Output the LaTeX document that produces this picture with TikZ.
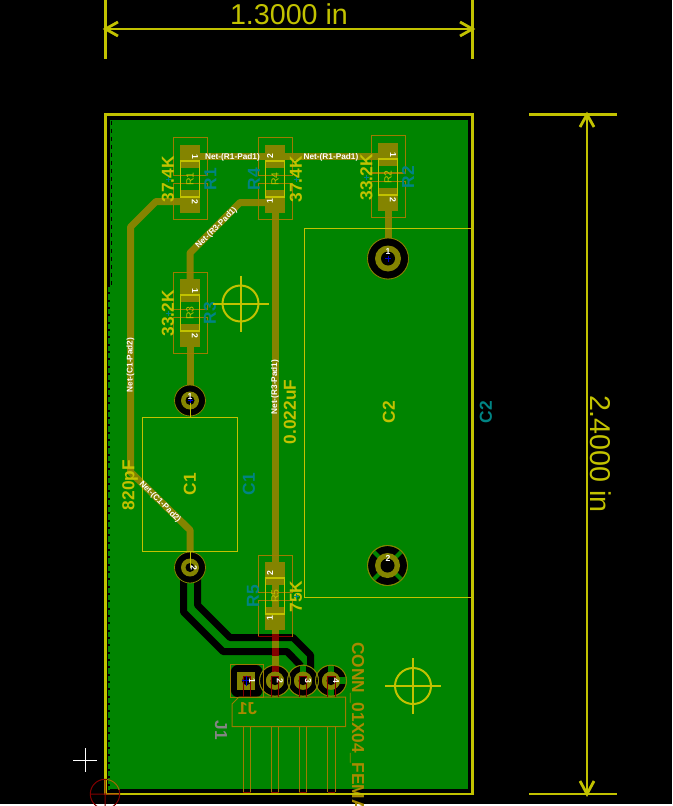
\documentclass[tikz,border=0pt]{standalone}
\usepackage{fontspec}
\setmainfont{Liberation Sans}
\usetikzlibrary{calc}
\definecolor{PcbGreen}{HTML}{008400}
\definecolor{PcbOlive}{HTML}{848400}
\definecolor{PcbYellow}{HTML}{C2C200}
\definecolor{PcbTeal}{HTML}{008484}
\definecolor{PcbRed}{HTML}{840000}
\definecolor{PcbBrown}{HTML}{9C7C00}
\definecolor{PcbGold}{HTML}{A88A00}
\definecolor{PcbGrey}{HTML}{848484}
\tikzset{
  fronttrack/.style={draw=PcbOlive,line width=5.25pt,line join=round},
  backtrack/.style={draw=black,line width=5.25pt,line join=round},
  thinyellow/.style={draw=PcbYellow,line width=.75pt},
  courtyard/.style={draw=PcbBrown,line width=.75pt},
  dimline/.style={draw=PcbYellow,line width=2.1pt},
  bigtext/.style={text=PcbYellow,font=\fontsize{21.5}{22}\selectfont,inner sep=0pt},
  valtext/.style={text=PcbYellow,font=\fontsize{13}{14}\selectfont\bfseries,inner sep=0pt},
  reftext/.style={text=PcbTeal,font=\fontsize{13}{14}\selectfont\bfseries,inner sep=0pt},
  bodytext/.style={text=PcbYellow,font=\fontsize{7.8}{8}\selectfont,inner sep=0pt},
  nettext/.style={text=white,font=\fontsize{6.2}{7}\selectfont\bfseries,inner sep=0pt},
  padtext/.style={text=white,font=\fontsize{6.5}{7}\selectfont\bfseries,inner sep=0pt}
}
\newcommand{\thpad}[4]{
  \fill[black] (#1) circle (#2);
  \draw[PcbOlive,line width=.6pt] (#1) circle (#2);
  \fill[PcbOlive] (#1) circle (#3);
  \fill[black] (#1) circle (#4);
}
\newcommand{\target}[1]{
  \draw[PcbYellow,line width=1.5pt] (#1) circle (18);
  \draw[PcbYellow,line width=1.5pt] ($(#1)+(-28,0)$) -- ($(#1)+(28,0)$);
  \draw[PcbYellow,line width=1.5pt] ($(#1)+(0,-28)$) -- ($(#1)+(0,28)$);
}
\begin{document}
\begin{tikzpicture}[x=.75pt,y=-.75pt]
  \useasboundingbox (0,0) rectangle (672,806);
  \fill[white] (0,0) rectangle (672,806);
  \fill[black] (0,0) rectangle (672,804);
  \fill[PcbGreen] (110,120) rectangle (468,789);
  \draw[PcbGreen,line width=1.5pt,dash pattern=on 4pt off 1.5pt] (109,287) -- (109,790);
  \draw[black,line width=.75pt,dash pattern=on 3pt off 3pt] (111,121) -- (111,287);

  % pad centres
  \coordinate (C1a) at (190,400.5);
  \coordinate (C1b) at (190,567.5);
  \coordinate (C2a) at (388,258.5);
  \coordinate (C2b) at (387.5,565.5);
  \coordinate (J1a) at (246.5,680.7);
  \coordinate (J1b) at (275,680.7);
  \coordinate (J1c) at (303,680.7);
  \coordinate (J1d) at (331,680.7);

  % back copper
  \draw[backtrack] (183.5,570) -- (183.5,612) -- (223,651.5) -- (287,651.5) -- (301,666);
  \draw[backtrack] (197.5,570) -- (197.5,605) -- (230,637.5) -- (293,637.5) -- (310.5,655) -- (310.5,672);

  % clearances
  \fill[black,rounded corners=5pt] (231,665) rectangle (262.5,697);
  \foreach \p in {C1a,C1b,J1b,J1c,J1d}
    \fill[black] (\p) circle (15.5);
  \foreach \a in {90,270}
    \draw[PcbGreen,line width=5pt] (J1d) -- ++(\a:-15.5);
  \draw[PcbGreen,line width=5pt] (J1d) -- ++(15.5,0);
  \draw[PcbGreen,line width=5pt] (J1c) -- ++(0,-15.5);
  \fill[black] (C2a) circle (20.5);
  \fill[black] (C2b) circle (19.5);
  \foreach \a in {45,135,225,315}
    \draw[PcbGreen,line width=3pt] (C2b) -- ++(\a:20);

  % front copper
  \draw[fronttrack] (190,157) -- (380,157);
  \draw[fronttrack] (190,201.5) -- (156,201.5) -- (130.5,227) -- (130.5,472) -- (190,530) -- (190,560);
  \draw[fronttrack] (275,202.5) -- (240,202.5) -- (190,253) -- (190,290);
  \draw[fronttrack] (275,202.5) -- (275,675);
  \draw[fronttrack] (190,335) -- (190,388);
  \draw[fronttrack] (388,200) -- (388,244);

  % crossings
  \foreach \ya/\yb in {634/641,648/655.5,665/672}
    \fill[PcbRed] (271.5,\ya) rectangle (278.5,\yb);
  \fill[PcbRed] (187,385) rectangle (193,392);
  \fill[PcbRed] (187,551.5) rectangle (193,559);
  \fill[PcbRed] (384.5,239) rectangle (391.5,246);

  % pads
  \foreach \p in {C1a,C1b}
    \thpad{\p}{15.5}{9}{4.5}
  \foreach \p in {J1b,J1c,J1d}
  {
    \draw[PcbOlive,line width=.6pt] (\p) circle (15.5);
    \fill[PcbOlive] (\p) circle (9);
    \fill[black] (\p) circle (4.5);
  }
  \thpad{C2a}{20.5}{13}{7}
  \draw[PcbOlive,line width=.6pt] (C2b) circle (20);
  \fill[PcbOlive] (C2b) circle (12.5);
  \fill[black] (C2b) circle (7);
  \fill[PcbOlive] (237,672) rectangle (255,690);
  \fill[black] (J1a) circle (4.5);
  \draw[PcbBrown,line width=.75pt] (230,664.5) rectangle (263,697);

  % resistors
  \foreach \cx/\cy/\rname/\rtop/\rbot/\rrot/\pdx/\val/\vx/\rx in {
      190/179/R1/1/2/-90/5/37.4K/168/210.5,
      275/179/R4/2/1/90/-5/37.4K/296/254,
      388/177/R2/1/2/-90/5/33.2K/366.5/408,
      190/313/R3/1/2/-90/5/33.2K/168/210,
      275/596/R5/2/1/90/-5/75K/296/253}
  {
    \fill[PcbOlive] (\cx-10,\cy-34) rectangle (\cx+10,\cy-11);
    \fill[PcbOlive] (\cx-10,\cy+11) rectangle (\cx+10,\cy+34);
    \draw[courtyard] (\cx-17,\cy-41) rectangle (\cx+17,\cy-4);
    \draw[courtyard] (\cx-17,\cy+4) rectangle (\cx+17,\cy+40);
    \draw[PcbYellow,line width=1pt] (\cx-9.5,\cy-18) rectangle (\cx+9.5,\cy+18);
    \node[bodytext,rotate=90] (body\rname) at (\cx,\cy) {\rname};
    \node[padtext,rotate=\rrot] (top\rname) at (\cx+\pdx,\cy-22.5) {\rtop};
    \node[padtext,rotate=\rrot] (bot\rname) at (\cx+\pdx,\cy+22.5) {\rbot};
    \node[valtext,rotate=90] (val\rname) at (\vx,\cy+.5) {\val};
    \node[reftext,rotate=90] (ref\rname) at (\rx,\cy) {\rname};
    \draw[PcbTeal,line width=.5pt] (\vx-2.5,\cy) -- (\vx+2.5,\cy) (\vx,\cy-2.5) -- (\vx,\cy+2.5);
  }
  \draw[PcbRed,line width=.75pt] (258,636) -- (292,636);

  % capacitors
  \draw[thinyellow] (142,417) rectangle (237,551);
  \draw[thinyellow] (304,228) rectangle (472,597);
  \draw[thinyellow] (190,400.5) -- (190,417);
  \draw[thinyellow] (190,551) -- (190,567.5);

  % connector
  \draw[courtyard] (232,704) -- (239,697) -- (345.5,697) -- (345.5,726.5) -- (232,726.5) -- cycle;
  \foreach \p/\px in {J1a/247,J1b/275,J1c/303,J1d/331.5}
  {
    \draw[PcbRed,line width=.5pt] (\px-3.7,697) -- (\px-3.7,676.5) -- (\px+3.7,676.5) -- (\px+3.7,697);
    \draw[PcbBrown,line width=.75pt] (\px-3.7,726.5) -- (\px-3.7,792) (\px+3.7,726.5) -- (\px+3.7,792);
    \draw[PcbRed,line width=.75pt] (\px-3.7,792) -- (\px+3.7,792);
  }
  \foreach \p/\pr in {J1a/5,C1a/2.5,C2a/3}
    \draw[blue!80!black,line width=.4pt] ($(\p)+(-\pr,0)$) -- ($(\p)+(\pr,0)$) ($(\p)+(0,-\pr)$) -- ($(\p)+(0,\pr)$);

  % pad numbers
  \node[padtext] (num1) at (190,396.5) {1};
  \node[padtext,rotate=-90] (num2) at (194,567.5) {2};
  \node[padtext] (num3) at (388,252) {1};
  \node[padtext] (num4) at (388,558) {2};
  \foreach \p/\px/\pnum in {a/252/1,b/280/2,c/308/3,d/336/4}
    \node[padtext,rotate=-90] (num\p) at (\px,680.7) {\pnum};

  % net names
  \node[nettext] (netA) at (232.5,157) {Net-(R1-Pad1)};
  \node[nettext] (netB) at (331,157) {Net-(R1-Pad1)};
  \node[nettext,rotate=45] (netC) at (216.5,228) {Net-(R3-Pad1)};
  \node[nettext,rotate=90] (netD) at (130.5,365) {Net-(C1-Pad2)};
  \node[nettext,rotate=90] (netE) at (275,387) {Net-(R3-Pad1)};
  \node[nettext,rotate=-45] (netF) at (160,502) {Net-(C1-Pad2)};

  % silk texts
  \node[valtext,rotate=90] (valC1) at (130,485) {820pF};
  \node[valtext,rotate=90] (valC2) at (290,412) {0.022uF};
  \node[valtext,rotate=90] (nameC1) at (190,484) {C1};
  \node[reftext,rotate=90] (refC1) at (249,484) {C1};
  \node[valtext,rotate=90] (nameC2) at (389,412) {C2};
  \node[reftext,rotate=90] (refC2) at (486,412) {C2};
  \node[text=PcbGold,font=\fontsize{13}{14}\selectfont\bfseries,inner sep=0pt,xscale=-1] (nameJ1) at (247.5,708.5) {J1};
  \node[text=PcbGrey,font=\fontsize{13}{14}\selectfont\bfseries,inner sep=0pt,rotate=-90] (refJ1) at (221,730) {J1};
  \node[text=PcbGold,font=\fontsize{13}{14}\selectfont\bfseries,inner sep=0pt,rotate=-90,anchor=west] (valJ1) at (357,642) {CONN\_01X04\_FEMALE};

  \target{240.5,303.5}
  \target{413,686}

  % board outline and dimensions
  \draw[dimline] (105.5,114.5) rectangle (472.5,794);
  \draw[dimline] (105.5,0) -- (105.5,59) (472.5,0) -- (472.5,59);
  \draw[dimline] (105.5,29) -- (472.5,29);
  \draw[dimline] (118,22) -- (105.5,29) -- (118,36);
  \draw[dimline] (460,22) -- (472.5,29) -- (460,36);
  \node[bigtext] (dimW) at (289,14) {1.3000 in};
  \draw[dimline] (529,114.5) -- (617,114.5) (529,794) -- (617,794);
  \draw[dimline] (587,114.5) -- (587,794);
  \draw[dimline] (580,127) -- (587,114.5) -- (594,127);
  \draw[dimline] (580,781) -- (587,794) -- (594,781);
  \node[bigtext,rotate=-90] (dimH) at (601,454) {2.4000 in};

  % cursor and origin
  \draw[white,line width=.75pt] (73,760) -- (97,760) (85,748) -- (85,772);
  \draw[PcbRed,line width=.75pt] (105,794) circle (14.7) (90,794) -- (119,794) (105,779) -- (105,806);
  \begin{scope}
    \clip (107,770) rectangle (125,789);
    \draw[PcbOlive,line width=.75pt] (105,794) circle (14.7);
  \end{scope}
\end{tikzpicture}
\end{document}
